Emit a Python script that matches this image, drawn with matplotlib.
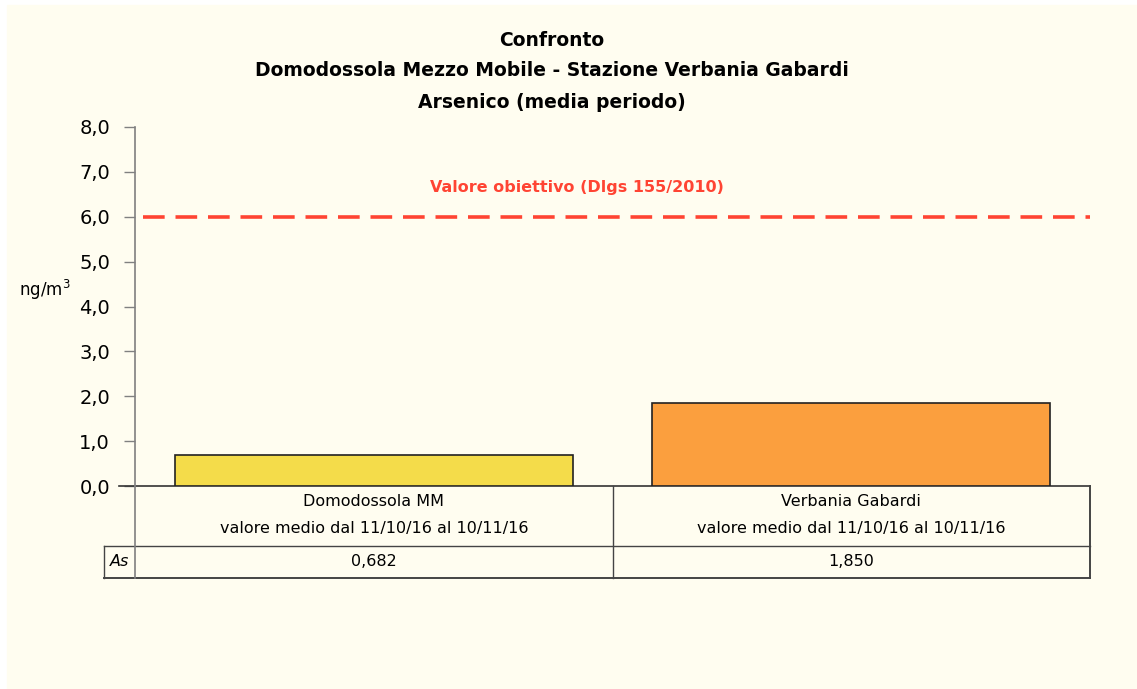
import matplotlib.pyplot as plt
from matplotlib.patches import Rectangle
from matplotlib.lines import Line2D
import matplotlib.transforms as mtransforms

# data
stations = ['Domodossola MM', 'Verbania Gabardi']
period = 'valore medio dal 11/10/16 al 10/11/16'
values = [0.682, 1.850]
value_labels = ['0,682', '1,850']
row_label = 'As'
limit_value = 6.0
limit_label = 'Valore obiettivo (Dlgs 155/2010)'
yticks = [0, 1, 2, 3, 4, 5, 6, 7, 8]
title_lines = ['Confronto',
               'Domodossola Mezzo Mobile - Stazione Verbania Gabardi',
               'Arsenico (media periodo)']

bg = '#FFFDF0'
bar_colors = ['#F4DC4A', '#FB9F3E']
red = '#FF4433'

W, H = 1137, 689
fig = plt.figure(figsize=(W / 100, H / 100), dpi=100, facecolor='white')
fig.patches.append(Rectangle((7 / W, 0), 1 - 7 / W, 1 - 5 / H,
                             transform=fig.transFigure, color=bg, zorder=-10))

ax = fig.add_axes([135 / W, 1 - 486 / H, (1090 - 135) / W, (486 - 127) / H])
ax.set_facecolor('none')

x = list(range(len(values)))
ax.bar(x, values, width=0.833, color=bar_colors, edgecolor='#222222', linewidth=1.2, zorder=3)
ax.axhline(limit_value, xmin=8 / 955, xmax=1, color=red, linestyle=(0, (6, 3)),
           linewidth=2.6, zorder=2)
ax.text(0.426, limit_value + 0.65, limit_label, color=red, fontsize=11.5, fontweight='bold',
        ha='center', va='center')

ax.set_xlim(-0.5, 1.5)
ax.set_ylim(0, 8)
ax.set_yticks(yticks)
ax.set_yticklabels([f'{v:.1f}'.replace('.', ',') for v in yticks], fontsize=14)
ax.tick_params(axis='y', length=8, width=1, color='#808080', pad=10)
ax.set_xticks([])
for s in ['top', 'right', 'bottom']:
    ax.spines[s].set_visible(False)
ax.spines['left'].set_color('#808080')
ax.spines['left'].set_linewidth(1.2)

fig.text(45 / W, 1 - 290 / H, 'ng/m$^3$', fontsize=12, ha='center', va='center')

for i, line in enumerate(title_lines):
    fig.text(552 / W, 1 - (40 + 31 * i) / H, line, fontsize=13.5, fontweight='bold',
             ha='center', va='center')

# data table under the axis
tr = mtransforms.blended_transform_factory(ax.transData, ax.transAxes)
px = 1 / 359.0
y0, y1, y2 = 0.0, -60 * px, -92 * px
xl = -0.5 - 31 / 477.5
lc = '#444444'


def seg(xs, ys, lw=1.0, color=lc):
    ax.add_line(Line2D(xs, ys, transform=tr, color=color, linewidth=lw, clip_on=False))


seg([-0.5 - 16 / 477.5, 1.5], [y0, y0], lw=1.2, color='#333333')
seg([xl, 1.5], [y1, y1])
seg([xl, 1.5], [y2, y2], lw=1.4)
seg([-0.5, -0.5], [y0, y2], color='#808080', lw=1.2)
seg([xl, xl], [y1, y2])
seg([0.5, 0.5], [y0, y2])
seg([1.5, 1.5], [y0, y2], lw=1.4)

for i, name in enumerate(stations):
    ax.text(i, -16 * px, name, transform=tr, ha='center', va='center', fontsize=11.5)
    ax.text(i, -42 * px, period, transform=tr, ha='center', va='center', fontsize=11.5)
    ax.text(i, -76 * px, value_labels[i], transform=tr, ha='center', va='center', fontsize=11.5)
ax.text((xl - 0.5) / 2, -76 * px, row_label, transform=tr, ha='center', va='center',
        fontsize=11.5, style='italic')

fig.savefig('out.png', dpi=100, facecolor=fig.get_facecolor())
